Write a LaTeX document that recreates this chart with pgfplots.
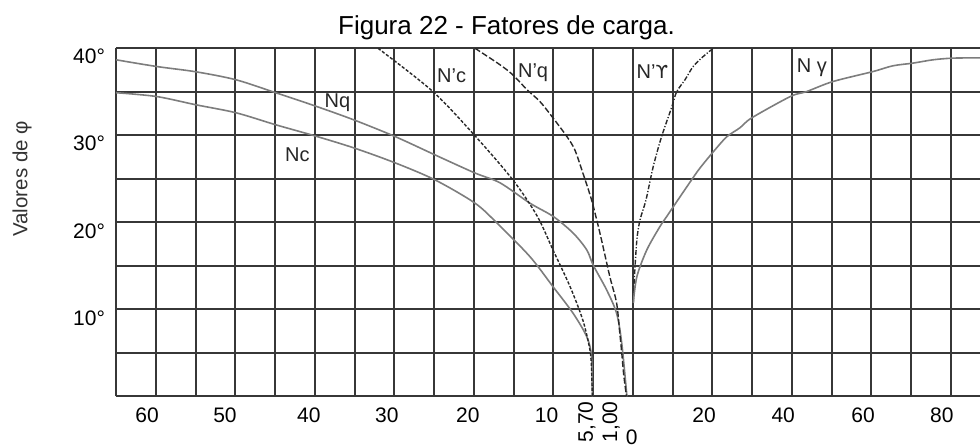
\documentclass[border=0pt]{standalone}
\usepackage{fontspec}
\setmainfont{Liberation Sans}
\newfontfamily\dejavu{DejaVu Sans}
\usepackage{pgfplots}
\pgfplotsset{compat=1.18}
\definecolor{gridc}{RGB}{55,55,55}
\definecolor{curvec}{RGB}{125,125,125}
\definecolor{dashc}{RGB}{40,40,40}
\begin{document}
\begin{tikzpicture}
\begin{axis}[
  name=ax,
  clip mode=individual,
  scale only axis, width=432pt, height=174.1pt,
  xmin=0, xmax=21.73, ymin=0, ymax=40,
  axis line style={draw=none},
  tick style={draw=none},
  xtick={0.78,2.74,4.85,6.81,8.85,10.83,14.79,16.78,18.79,20.77},
  xticklabels={60,50,40,30,20,10,20,40,60,80},
  extra x ticks={11.84,12.45},
  extra x tick labels={{5,70},{1,00}},
  extra x tick style={grid=none, xticklabel style={yshift=3pt, rotate=90, anchor=east}},
  minor xtick={0,1,...,21},
  ytick={10,20,30,40},
  yticklabels={10°,20°,30°,40°},
  minor ytick={0,5,...,40},
  grid=minor,
  minor grid style={gridc, line width=1pt},
  major grid style={draw=none},
  ticklabel style={font=\fontsize{10.5}{12}\selectfont},
  yticklabel style={yshift=-4.2pt, xshift=-2pt},
  xticklabel style={yshift=-2pt},
  /pgf/number format/assume math mode=true,
]
% Nc
\addplot[curvec, line width=0.8pt, smooth] coordinates {
(0,34.9) (1.02,34.46) (2.01,33.51) (3.02,32.59) (4.02,31.21) (5.0,29.94)
(5.98,28.56) (7.02,26.84) (8.02,24.89) (9.02,22.24) (9.57,19.98) (10.41,16.07)
(10.99,12.62) (11.49,9.6) (11.84,6.87) (11.96,4.57) (11.98,0)};
% Nq
\addplot[curvec, line width=0.8pt, smooth] coordinates {
(0,38.68) (1.02,37.91) (2.01,37.3) (3.02,36.38) (4.02,34.89) (5.0,33.39)
(5.98,31.78) (7.02,29.86) (8.02,27.76) (9.02,25.69) (9.66,24.54) (10.41,22.21)
(11.0,20.67) (11.5,18.76) (11.84,16.84) (12.0,15.11) (12.34,12.24) (12.59,9.56)
(12.72,6.11) (12.85,0)};
% N'c
\addplot[dashc, line width=0.7pt, dash pattern=on 1.6pt off 0.9pt, smooth] coordinates {
(6.59,40) (7.97,35.03) (9.03,29.94) (9.98,24.89) (10.59,20.75) (10.99,16.84)
(11.42,12.62) (11.74,8.79) (11.92,5.34) (11.96,3.05) (11.98,0)};
% N'q
\addplot[dashc, line width=0.7pt, dash pattern=on 3pt off 1.2pt, smooth] coordinates {
(9.03,40) (9.66,38.1) (9.98,36.95) (10.34,35.23) (10.66,33.89) (10.99,32.01)
(11.34,29.86) (11.54,28.33) (11.74,25.69) (11.96,22.59) (12.17,18.79) (12.42,13.77)
(12.59,10.75) (12.67,7.3) (12.72,5.0) (12.77,2.47) (12.84,0)};
% N'gamma
\addplot[dashc, line width=0.7pt, dash pattern=on 2.4pt off 0.9pt on 0.6pt off 0.9pt, smooth] coordinates {
(13.01,10.75) (13.03,13.05) (13.1,17.99) (13.18,20.29) (13.33,22.59) (13.51,26.38)
(13.72,29.83) (13.98,33.28) (14.1,35.0) (14.31,36.38) (14.51,37.87) (14.76,39.02) (15.02,40)};
% N gamma
\addplot[curvec, line width=0.8pt, smooth] coordinates {
(13.01,10.75) (13.1,13.77) (13.35,16.84) (13.68,19.52) (13.85,20.67) (14.19,22.97)
(14.51,25.11) (14.69,26.26) (15.02,28.1) (15.36,29.83) (15.69,30.86) (15.99,32.01)
(16.96,34.46) (17.37,35.03) (18.03,36.18) (19.04,37.33) (19.54,37.99) (20.05,38.3)
(20.55,38.68) (21.05,38.87) (21.73,38.9)};
% curve labels
\begin{scope}[every node/.style={font=\fontsize{10}{12}\selectfont, inner sep=0pt, text=black!85}]
\node at (axis cs:4.56,27.76) {Nc};
\node at (axis cs:5.57,33.7) {Nq};
\node at (axis cs:8.44,36.86) {N'c};
\node at (axis cs:10.49,37.18) {N'q};
\node at (axis cs:13.49,37.36) {N'{\dejavu\fontsize{9}{12}\selectfont ϒ}};
\node at (axis cs:17.5,37.76) {N γ};
\end{scope}
\node[font=\fontsize{10.5}{12}\selectfont, anchor=base] at (axis cs:12.97,0) [yshift=-24pt] {0};
\node[xshift=-47pt, rotate=90, anchor=center, font=\fontsize{10.25}{12}\selectfont, text=black!80] at (rel axis cs:0,0.625) {Valores de φ};
\node[font=\fontsize{13}{15}\selectfont, anchor=base] at (rel axis cs:0.452,1) [yshift=7pt] {Figura 22 - Fatores de carga.};
\end{axis}
\pgfresetboundingbox
\useasboundingbox ([shift={(-58pt,-25.75pt)}]ax.south west) rectangle ([shift={(0pt,24.15pt)}]ax.north east);
\end{tikzpicture}
\end{document}
